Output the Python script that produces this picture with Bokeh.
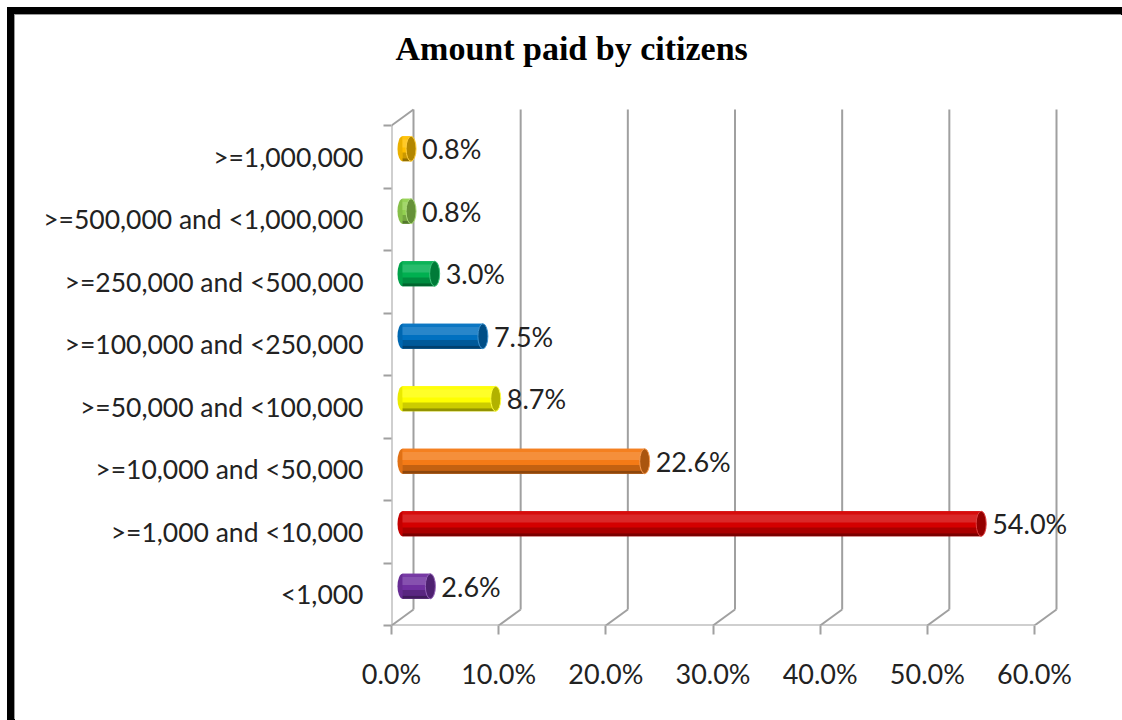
from bokeh.plotting import figure
from bokeh.models import Range1d, FixedTicker, ColumnDataSource, Label
from bokeh.core.properties import value
from bokeh.embed import file_html
from bokeh.resources import INLINE

# ---------------- data ----------------
categories = ["<1,000", ">=1,000 and <10,000", ">=10,000 and <50,000",
              ">=50,000 and <100,000", ">=100,000 and <250,000",
              ">=250,000 and <500,000", ">=500,000 and <1,000,000", ">=1,000,000"]
shares = [2.6, 54.0, 22.6, 8.7, 7.5, 3.0, 0.8, 0.8]
bar_colors = ["#7030A0", "#D40000", "#F47A16", "#FFFF00",
              "#0070C0", "#00B050", "#92D050", "#FFC000"]
x_ticks = [0, 10, 20, 30, 40, 50, 60]
x_tick_labels = ["0.0%", "10.0%", "20.0%", "30.0%", "40.0%", "50.0%", "60.0%"]
title_text = "Amount paid by citizens"

# ---------------- geometry (pixels, page coordinates) ----------------
OX, OY = 15, 15                      # figure placed inside the black frame
W, H = 1122 - OX, 720 - OY
F_LEFT, F_RIGHT, F_TOP, F_BOTTOM = 391 - OX, 1080 - OX, 22 - OY, 625 - OY
PX_X = (1034 - 391) / 60.0          # pixels per percent
PX_Y = 62.5                          # pixels per category
x_end = (F_RIGHT - F_LEFT) / PX_X
y_end = (F_BOTTOM - F_TOP) / PX_Y
n = len(categories)
DX = 22 / PX_X                       # depth offset (x)
DY = 16 / PX_Y                       # depth offset (y)
BAR_H = 25 / PX_Y
CAP_W = 10 / PX_X
TITLE_X = (395 - 391) / PX_X         # title left edge
TITLE_Y = (625 - 48) / PX_Y          # title anchor
GRID = "#A0A0A0"
FONT = "Lato"
TXT = "#222222"

p = figure(width=W, height=H, output_backend="svg", toolbar_location=None,
           x_range=Range1d(0, x_end), y_range=Range1d(0, y_end),
           min_border_left=F_LEFT, min_border_right=W - F_RIGHT,
           min_border_top=F_TOP, min_border_bottom=H - F_BOTTOM,
           background_fill_color="white", border_fill_color="white")
p.outline_line_color = None
p.grid.visible = False
# black chart border (top and left edges visible, rest cropped)
p.styles = {"margin-left": "%dpx" % OX, "margin-top": "%dpx" % OY,
            "box-shadow": ("-1px -1px 0px 0px #9a9a9a, -8px -8px 0px 0px #000000, "
                           "0px -8px 0px 0px #000000, -8px 0px 0px 0px #000000")}

# title
p.add_layout(Label(x=TITLE_X, y=TITLE_Y, text=title_text,
                   text_align="left", text_baseline="alphabetic",
                   text_font="Liberation Serif", text_font_style="bold",
                   text_font_size="34px", text_color="black"))

# x axis
xa = p.xaxis[0]
xa.ticker = FixedTicker(ticks=x_ticks, minor_ticks=[])
xa.major_label_overrides = {t: l for t, l in zip(x_ticks, x_tick_labels)}
xa.axis_line_color = None
xa.major_tick_line_color = GRID
xa.major_tick_line_width = 2
xa.major_tick_out = 9
xa.major_tick_in = 0
xa.major_label_standoff = 22
xa.major_label_text_font = FONT
xa.major_label_text_font_size = "27px"
xa.major_label_text_color = TXT

# y axis
ya = p.yaxis[0]
centers = [i + 0.5 for i in range(n)]
ya.ticker = FixedTicker(ticks=centers, minor_ticks=list(range(n + 1)))
ya.major_label_overrides = {c: lab for c, lab in zip(centers, categories)}
ya.axis_line_color = None
ya.major_tick_line_color = None
ya.major_tick_out = 0
ya.major_tick_in = 0
ya.minor_tick_line_color = GRID
ya.minor_tick_line_width = 2
ya.minor_tick_out = 8
ya.minor_tick_in = 0
ya.major_label_standoff = 20
ya.major_label_text_font = FONT
ya.major_label_text_font_size = "26.5px"
ya.major_label_text_color = TXT

# ---------------- 3D walls / gridlines ----------------
p.segment(x0=[t + DX for t in x_ticks], y0=[DY] * len(x_ticks),
          x1=[t + DX for t in x_ticks], y1=[n + DY] * len(x_ticks),
          line_color=GRID, line_width=2)
p.segment(x0=x_ticks, y0=[0] * len(x_ticks),
          x1=[t + DX for t in x_ticks], y1=[DY] * len(x_ticks),
          line_color=GRID, line_width=2)
p.segment(x0=[0, 0, 0], y0=[0, 0, n],
          x1=[x_ticks[-1], 0, DX], y1=[0, n, n + DY],
          line_color=GRID, line_width=2)

# ---------------- cylinders ----------------
def mix(hexc, f):
    r, g, b = int(hexc[1:3], 16), int(hexc[3:5], 16), int(hexc[5:7], 16)
    if f >= 0:
        r, g, b = [int(c + (255 - c) * f) for c in (r, g, b)]
    else:
        r, g, b = [int(c * (1 + f)) for c in (r, g, b)]
    return "#%02x%02x%02x" % (r, g, b)

x0 = DX / 2
yc = [i + 0.5 + DY / 2 for i in range(n)]
right = [x0 + v for v in shares]

# left caps
p.ellipse(x=[x0] * n, y=yc, width=CAP_W, height=BAR_H,
          fill_color=[mix(c, -0.08) for c in bar_colors], line_color=None)
# body: base + shading bands (fractions of bar height from bottom)
p.hbar(y=yc, left=[x0] * n, right=right, height=BAR_H,
       fill_color=bar_colors, line_color=None)
bands = [(0.55, 0.88, 0.16), (0.88, 1.0, 0.05), (0.12, 0.35, -0.2), (0.0, 0.12, -0.42)]
for lo, hi, f in bands:
    ys = [y - BAR_H / 2 + BAR_H * (lo + hi) / 2 for y in yc]
    p.hbar(y=ys, left=[x0] * n, right=right, height=BAR_H * (hi - lo),
           fill_color=[mix(c, f) for c in bar_colors], line_color=None)
# right caps
p.ellipse(x=right, y=yc, width=CAP_W, height=BAR_H,
          fill_color=[mix(c, -0.3) for c in bar_colors],
          line_color=[mix(c, 0.25) for c in bar_colors], line_width=1)

# value labels
src = ColumnDataSource(dict(x=right, y=yc, t=["%.1f%%" % v for v in shares]))
p.text(x="x", y="y", text="t", source=src, x_offset=11,
       text_baseline="middle", text_align="left",
       text_font=value(FONT), text_font_size="27px", text_color=TXT)

open("out.html", "w").write(file_html(p, INLINE))
